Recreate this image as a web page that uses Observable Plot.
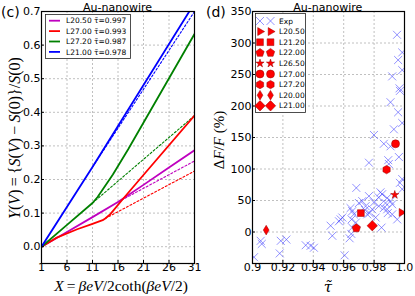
<!DOCTYPE html>
<html><head><meta charset="utf-8">
<script src="https://cdn.jsdelivr.net/npm/d3@7"></script>
<script src="https://cdn.jsdelivr.net/npm/@observablehq/plot@0.6"></script>
<style>
body{margin:0;background:#fff;}
#wrap{position:relative;width:415px;height:296px;overflow:hidden;font-family:"DejaVu Sans",sans-serif;color:#000;}
.abs{position:absolute;white-space:nowrap;line-height:1;}
.math{font-family:"Liberation Serif","DejaVu Serif",serif;}
.dvs{font-family:"DejaVu Serif",serif;font-style:italic;}
.rot{transform:translate(-50%,-50%) rotate(-90deg);}
.ctr{transform:translate(-50%,-50%);}
</style></head><body><div id="wrap"></div>
<script>
// ---------- Panel (c) data ----------
const xTicksC = [1, 6, 11, 16, 21, 26, 31];
const yTicksC = [0, 0.1, 0.2, 0.3, 0.4, 0.5, 0.6, 0.7];
const yTickLabelsC = ["0.0", "0.1", "0.2", "0.3", "0.4", "0.5", "0.6", "0.7"];
const seriesC = ["L20.50", "L27.00", "L27.20", "L21.00"];
const tauC = ["0.997", "0.993", "0.987", "0.978"];

const l2050SolidX = [1, 6, 11, 16, 21, 26, 31];
const l2050SolidY = [0, 0.044, 0.088, 0.133, 0.184, 0.236, 0.287];
const l2050DashX = [16, 31];
const l2050DashY = [0.133, 0.255];

const l2700SolidX = [1, 4, 8, 11, 13, 13.5, 14.5, 16.8, 20.4, 31];
const l2700SolidY = [0, 0.027, 0.052, 0.068, 0.079, 0.084, 0.097, 0.139, 0.203, 0.39];
const l2700DashX = [13.5, 31];
const l2700DashY = [0.084, 0.225];

const l2720SolidX = [1, 6, 11, 12, 13, 15, 18, 31];
const l2720SolidY = [0, 0.065, 0.13, 0.148, 0.17, 0.215, 0.29, 0.633];
const l2720DashX = [11, 31];
const l2720DashY = [0.13, 0.39];

const l2100SolidX = [1, 11, 31];
const l2100SolidY = [0, 0.237, 0.725];
const l2100DashX = [11, 31];
const l2100DashY = [0.237, 0.70];

// ---------- Panel (d) data ----------
const xTicksD = [0.9, 0.92, 0.94, 0.96, 0.98, 1.0];
const xTickLabelsD = ["0.9", "0.92", "0.94", "0.96", "0.98", "1.0"];
const yTicksD = [0, 50, 100, 150, 200, 250, 300, 350];
const yTickLabelsD = ["0", "50", "100", "150", "200", "250", "300", "350"];

const expTau = [0.9951, 0.9985, 0.9958, 0.9985, 0.9919, 0.9967, 0.9970, 0.9908, 0.9958, 0.9985,
  0.9930, 0.9799, 0.9864, 0.9908, 0.9893, 0.9897, 0.9963, 0.9766, 0.9985, 0.9970,
  0.9985, 0.9683, 0.9766, 0.9842, 0.9853, 0.9886, 0.9908, 0.9875, 0.9919, 0.9864,
  0.9886, 0.9831, 0.9799, 0.9788, 0.9744, 0.9722, 0.9700, 0.9645, 0.9656, 0.9667,
  0.9652, 0.9591, 0.9580, 0.9569, 0.9755, 0.9810, 0.9919, 0.9952, 0.9656, 0.9650,
  0.9639, 0.9849, 0.9514, 0.9525, 0.9606, 0.9054, 0.9061, 0.9010, 0.9186, 0.9223,
  0.9179, 0.9350, 0.9382, 0.9404, 0.9740, 0.9830, 0.9890, 0.9680, 0.9770];
const expDF = [313, 285, 273, 257, 247, 228, 224, 206, 190, 173,
  163, 154, 140, 136, 114, 108, 119, 110, 84, 78,
  68, 70, 57, 63, 60, 54, 49, 46, 44, 38,
  36, 41, 47, 36, 41, 49, 46, 38, 33, 28,
  20, 23, 20, 17, 28, 23, 28, 20, 7, -3,
  -10, 7, 10, -6, -37, -14, -19, -40, -14, -12,
  -34, -21, -22, -25, 35, 55, 30, 15, 30];

const theoryNames = ["L20.50", "L21.20", "L22.00", "L26.50", "L27.00", "L27.20", "L20.00", "L21.00"];
const theoryTau = [0.998, 0.9713, 0.9683, 0.9936, 0.9941, 0.9882, 0.909, 0.9788];
const theoryDF = [31, 30, 6, 59, 140, 99, 3, 10];

// ---------- styles ----------
const colorsC = ["#bf00bf", "#ff0000", "#008000", "#0000ff"];
const gridStyle = {stroke: "#b0b0b0", strokeOpacity: 1, strokeDasharray: "2,2", strokeWidth: 0.8};
const expColor = "#4a4aff";

const poly = (n, rot, scale = 1) => ({draw(ctx, size) {
  const r = Math.sqrt(size / Math.PI) * scale;
  for (let i = 0; i < n; i++) {
    const a = rot + i * 2 * Math.PI / n;
    const px = r * Math.sin(a), py = -r * Math.cos(a);
    i ? ctx.lineTo(px, py) : ctx.moveTo(px, py);
  }
  ctx.closePath();
}});
const symRight = poly(3, Math.PI / 2, 1.15);
const symSquare = poly(4, Math.PI / 4, 1.2);
const symPent = poly(5, 0, 1.1);
const symStar = {draw(ctx, size) { d3.symbolStar.draw(ctx, size * 0.42); }};
const symCircle = {draw(ctx, size) { const r = Math.sqrt(size / Math.PI); ctx.moveTo(r, 0); ctx.arc(0, 0, r, 0, 2 * Math.PI); }};
const symHex = poly(6, 0, 1.05);
const symThinDiamond = {draw(ctx, size) { const r = Math.sqrt(size / Math.PI) * 1.2;
  ctx.moveTo(0, -r); ctx.lineTo(0.6 * r, 0); ctx.lineTo(0, r); ctx.lineTo(-0.6 * r, 0); ctx.closePath(); }};
const symDiamond = poly(4, 0, 1.3);
const theorySymbols = [symRight, symSquare, symPent, symStar, symCircle, symHex, symThinDiamond, symDiamond];

const pts = (xs, ys) => xs.map((x, i) => ({x, y: ys[i]}));

// ---------- Panel (c) ----------
const curvesC = [
  [l2050SolidX, l2050SolidY, l2050DashX, l2050DashY],
  [l2700SolidX, l2700SolidY, l2700DashX, l2700DashY],
  [l2720SolidX, l2720SolidY, l2720DashX, l2720DashY],
  [l2100SolidX, l2100SolidY, l2100DashX, l2100DashY]
];
const lineMarks = [];
curvesC.forEach((c, i) => {
  lineMarks.push(Plot.line(pts(c[2], c[3]), {x: "x", y: "y", stroke: colorsC[i], strokeWidth: 1.1, strokeDasharray: "2,2", clip: true}));
});
curvesC.forEach((c, i) => {
  lineMarks.push(Plot.line(pts(c[0], c[1]), {x: "x", y: "y", stroke: colorsC[i], strokeWidth: 1.8, clip: true}));
});

const axisStyle = {fontFamily: "DejaVu Sans", fontSize: "11px", background: "transparent", overflow: "visible", color: "#000"};

const plotC = Plot.plot({
  width: 207, height: 296, marginLeft: 41, marginRight: 13, marginTop: 11, marginBottom: 33,
  style: axisStyle,
  x: {domain: [1, 31]}, y: {domain: [-0.05, 0.7]},
  marks: [
    Plot.gridX(xTicksC, gridStyle),
    Plot.gridY(yTicksC, gridStyle),
    ...lineMarks,
    Plot.frame({stroke: "#000", strokeWidth: 1.2}),
    Plot.axisX(xTicksC, {tickSize: -3, tickPadding: 3, tickFormat: d => String(d), label: null}),
    Plot.axisY(yTicksC, {tickSize: -3, tickPadding: 4, tickFormat: d => yTickLabelsC[yTicksC.indexOf(d)], label: null})
  ]
});

// ---------- Panel (d) ----------
const theoryMarks = theoryNames.map((n, i) =>
  Plot.dot([{x: theoryTau[i], y: theoryDF[i]}], {x: "x", y: "y", r: 4, symbol: theorySymbols[i], fill: "#ff0000", stroke: "#900", strokeWidth: 0.5, clip: true}));

const plotD = Plot.plot({
  width: 208, height: 296, marginLeft: 45, marginRight: 11, marginTop: 11, marginBottom: 33,
  style: axisStyle,
  x: {domain: [0.9, 1.0]}, y: {domain: [-50, 350]},
  marks: [
    Plot.gridX(xTicksD, gridStyle),
    Plot.gridY(yTicksD, gridStyle),
    Plot.dot(pts(expTau, expDF), {x: "x", y: "y", r: 3.7, symbol: "times", stroke: expColor, strokeOpacity: 0.6, strokeWidth: 1, clip: true}),
    ...theoryMarks,
    Plot.frame({stroke: "#000", strokeWidth: 1.2}),
    Plot.axisX(xTicksD, {tickSize: -3, tickPadding: 3, tickFormat: d => xTickLabelsD[xTicksD.indexOf(d)], label: null}),
    Plot.axisY(yTicksD, {tickSize: -3, tickPadding: 4, tickFormat: d => yTickLabelsD[yTicksD.indexOf(d)], label: null})
  ]
});

const wrap = document.getElementById("wrap");
plotC.style.position = "absolute"; plotC.style.left = "0px"; plotC.style.top = "0px";
plotD.style.position = "absolute"; plotD.style.left = "207px"; plotD.style.top = "0px";
wrap.appendChild(plotC);
wrap.appendChild(plotD);

function addDiv(html, cls, left, top, size, extra = "") {
  const d = document.createElement("div");
  d.className = "abs " + cls;
  d.style.left = left + "px"; d.style.top = top + "px"; d.style.fontSize = size + "px";
  if (extra) d.style.cssText += extra;
  d.innerHTML = html;
  wrap.appendChild(d);
  return d;
}
// titles & panel labels
addDiv("Au-nanowire", "ctr", 117.5, 6.5, 11);
addDiv("Au-nanowire", "ctr", 327.8, 6.5, 11);
addDiv("(c)", "", 1, 5, 14);
addDiv("(d)", "", 206, 5, 14);
// axis labels
addDiv("<i>Y</i>(<i>V</i>)&thinsp;=&thinsp;{<i>S</i>(<i>V</i>)&thinsp;&minus;&thinsp;<i>S</i>(0)}/<i>S</i>(0)", "math rot", 15, 138, 16);
addDiv("<i>X</i>&thinsp;=&thinsp;<i>&beta;eV</i>/2coth(<i>&beta;eV</i>/2)", "math ctr", 121, 285.5, 15.5);
addDiv("&Delta;<i>F</i>/<i>F</i> (%)", "math rot", 219, 140, 15);
addDiv("\u03C4\u0303", "dvs ctr", 328, 287, 15);

// legend (c)
const ns = "http://www.w3.org/2000/svg";
function svgEl(tag, attrs, parent) {
  const e = document.createElementNS(ns, tag);
  for (const k in attrs) e.setAttribute(k, attrs[k]);
  if (parent) parent.appendChild(e);
  return e;
}
const legC = svgEl("svg", {width: 86, height: 45});
legC.style.cssText = "position:absolute;left:45px;top:14px;";
svgEl("rect", {x: 0.5, y: 0.5, width: 85, height: 44, fill: "#fff", stroke: "#222", "stroke-width": 0.8}, legC);
seriesC.forEach((s, i) => {
  const cy = 6.7 + i * 10.4;
  svgEl("line", {x1: 4, x2: 15, y1: cy, y2: cy, stroke: colorsC[i], "stroke-width": 1.8}, legC);
  const t = svgEl("text", {x: 21, y: cy + 2.6, "font-size": 7.5, "font-family": "DejaVu Sans"}, legC);
  t.textContent = s + " \u03C4\u0303=" + tauC[i];
});
wrap.appendChild(legC);

// legend (d)
const legD = svgEl("svg", {width: 51, height: 100});
legD.style.cssText = "position:absolute;left:255px;top:13px;";
svgEl("rect", {x: 0.5, y: 0.5, width: 50, height: 99, fill: "#fff", stroke: "#222", "stroke-width": 0.8}, legD);
const legNames = ["Exp", ...theoryNames];
legNames.forEach((s, i) => {
  const cy = 8 + i * 10.6;
  [5, 15.5].forEach(cx => {
    const p = d3.path();
    if (i === 0) {
      d3.symbolTimes.draw(p, 3.7 * 3.7 * Math.PI);
      svgEl("path", {d: p.toString(), transform: `translate(${cx},${cy})`, fill: "none", stroke: expColor, "stroke-opacity": 0.6, "stroke-width": 1}, legD);
    } else {
      theorySymbols[i - 1].draw(p, 4 * 4 * Math.PI);
      svgEl("path", {d: p.toString(), transform: `translate(${cx},${cy})`, fill: "#ff0000", stroke: "#900", "stroke-width": 0.5}, legD);
    }
  });
  const t = svgEl("text", {x: 24, y: cy + 2.6, "font-size": 7.5, "font-family": "DejaVu Sans"}, legD);
  t.textContent = s;
});
wrap.appendChild(legD);
</script></body></html>
